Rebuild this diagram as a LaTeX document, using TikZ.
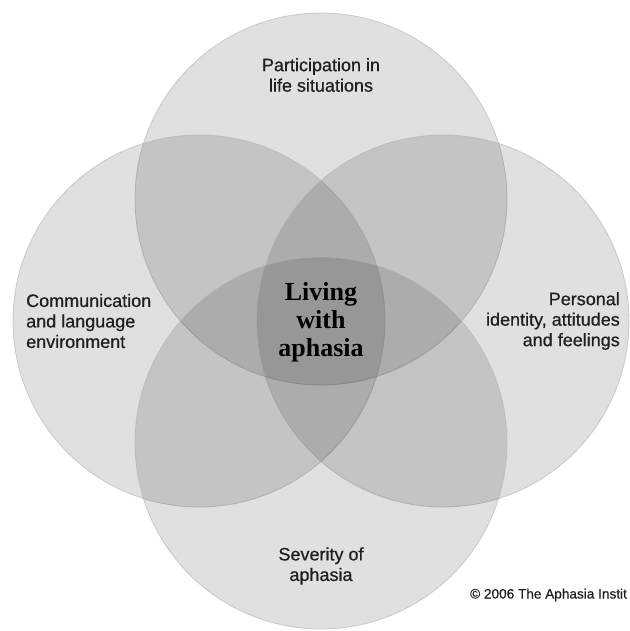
\documentclass[tikz,border=0pt]{standalone}
\usepackage{fontspec}
\setmainfont[FakeBold=0.6]{Liberation Sans}
\newfontfamily\centerserif{Liberation Serif}
\begin{document}
\begin{tikzpicture}[x=1pt,y=-1pt,
  petal/.style={fill=black, fill opacity=0.12, draw=black!30, draw opacity=0.6, line width=0.8pt},
  lbl/.style={font=\fontsize{18}{20.5}\selectfont, text=black!88, inner sep=0pt},
  centerlbl/.style={font=\centerserif\bfseries\fontsize{26}{28}\selectfont, text=black, inner sep=0pt, align=center},
  copylbl/.style={font=\fontsize{13.6}{15}\selectfont, text=black!88, inner sep=0pt, anchor=west}]
\useasboundingbox (0,0) rectangle (629,631);
\fill[white] (0,0) rectangle (629,631);
\path[petal] (321,199) circle[radius=186];
\path[petal] (199,321) circle[radius=186];
\path[petal] (443,321) circle[radius=186];
\path[petal] (321,443) circle[radius=186];
\node[lbl, align=center] (part) at (321,75) {Participation in\\life situations};
\node[lbl, align=left, anchor=west] (comm) at (26,321) {Communication\\and language\\environment};
\node[lbl, align=right, anchor=east] (pers) at (620,321) {Personal\\identity, attitudes\\and feelings};
\node[lbl, align=center] (sev) at (321,566) {Severity of\\aphasia};
\node[centerlbl] (live) at (321,322) {Living\\with\\aphasia};
\node[copylbl] (copy) at (470,595) {© 2006 The Aphasia Instit};
\end{tikzpicture}
\end{document}
